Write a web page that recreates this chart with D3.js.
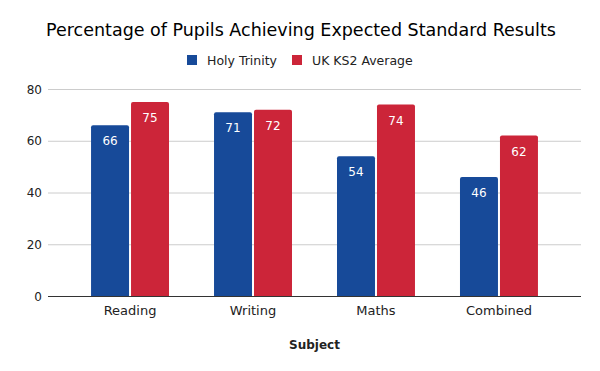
<!DOCTYPE html>
<html>
<head>
<meta charset="utf-8">
<script src="https://cdn.jsdelivr.net/npm/d3@7"></script>
<style>
	body { margin: 0; background: #fff; }
	text { font-family: "DejaVu Sans", sans-serif; }
</style>
</head>
<body>
<div class="chart"></div>
<script>
const subjects = ["Reading", "Writing", "Maths", "Combined"];
const seriesNames = ["Holy Trinity", "UK KS2 Average"];
const holyTrinity = [66, 71, 54, 46];
const ukAverage = [75, 72, 74, 62];
const yTicks = [0, 20, 40, 60, 80];
const colors = ["#174a99", "#cc2539"];

makeChart()

function makeChart() {
	const width = 600;
	const height = 371;
	const margin = {top: 89, right: 19, bottom: 75, left: 48};

	const svg = d3.select('.chart')
		.append('svg')
		.attr('width', width)
		.attr('height', height)

	let rows = subjects.map(function(s, i) {
		return {subject: s, values: [holyTrinity[i], ukAverage[i]]};
	});

	const x = d3.scaleBand()
		.domain(subjects)
		.range([margin.left, width - margin.right])
		.paddingInner(0.366)
		.paddingOuter(0.35);

	const x1 = d3.scaleBand()
		.domain([0, 1])
		.range([0, x.bandwidth()])
		.paddingInner(0.05);

	const y = d3.scaleLinear()
		.domain([0, 80])
		.range([height - margin.bottom, margin.top]);

	// gridlines
	svg.append('g')
		.selectAll('line')
		.data(yTicks)
		.enter()
		.append('line')
		.attr('x1', margin.left)
		.attr('x2', width - margin.right)
		.attr('y1', function(d) { return y(d) + 0.5; })
		.attr('y2', function(d) { return y(d) + 0.5; })
		.attr('stroke', function(d) { return d == 0 ? '#333' : '#cccccc'; })
		.attr('stroke-width', 1);

	// y labels
	svg.append('g')
		.selectAll('text')
		.data(yTicks)
		.enter()
		.append('text')
		.text(function(d) { return d; })
		.attr('x', 42)
		.attr('y', function(d) { return y(d) + 4.5; })
		.attr('text-anchor', 'end')
		.attr('font-size', '12px')
		.attr('fill', '#222');

	let groups = svg.append('g')
		.selectAll('g')
		.data(rows)
		.enter()
		.append('g')
		.attr('transform', function(d) { return 'translate(' + x(d.subject) + ',0)'; });

	groups.selectAll('path')
		.data(function(d) { return d.values; })
		.enter()
		.append('path')
		.attr('fill', function(d, i) { return colors[i]; })
		.attr('d', function(d, i) {
			let x0 = x1(i), w = x1.bandwidth(), top = y(d), bot = y(0), r = 2;
			return 'M' + x0 + ',' + bot + 'V' + (top + r) + 'Q' + x0 + ',' + top + ' ' + (x0 + r) + ',' + top +
				'H' + (x0 + w - r) + 'Q' + (x0 + w) + ',' + top + ' ' + (x0 + w) + ',' + (top + r) + 'V' + bot + 'Z';
		});

	groups.selectAll('text')
		.data(function(d) { return d.values; })
		.enter()
		.append('text')
		.text(function(d) { return d; })
		.attr('x', function(d, i) { return x1(i) + x1.bandwidth() / 2; })
		.attr('y', function(d) { return y(d) + 20; })
		.attr('text-anchor', 'middle')
		.attr('font-size', '12px')
		.attr('fill', '#ffffff');

	// category labels
	svg.append('g')
		.selectAll('text')
		.data(subjects)
		.enter()
		.append('text')
		.text(function(d) { return d; })
		.attr('x', function(d) { return x(d) + x.bandwidth() / 2; })
		.attr('y', 315)
		.attr('text-anchor', 'middle')
		.attr('font-size', '13px')
		.attr('fill', '#222');

	svg.append('text')
		.text('Subject')
		.attr('x', (margin.left + width - margin.right) / 2)
		.attr('y', 349)
		.attr('text-anchor', 'middle')
		.attr('font-size', '12px')
		.attr('font-weight', 'bold')
		.attr('fill', '#222');

	svg.append('text')
		.text('Percentage of Pupils Achieving Expected Standard Results')
		.attr('x', 301)
		.attr('y', 36)
		.attr('text-anchor', 'middle')
		.attr('font-size', '17.5px')
		.attr('fill', '#000');

	// legend
	let legendX = [187, 292];
	let legend = svg.append('g')
		.selectAll('g')
		.data(seriesNames)
		.enter()
		.append('g')
		.attr('transform', function(d, i) { return 'translate(' + legendX[i] + ',55)'; });
	legend.append('rect')
		.attr('width', 10)
		.attr('height', 10)
		.attr('fill', function(d, i) { return colors[i]; });
	legend.append('text')
		.text(function(d) { return d; })
		.attr('x', 20)
		.attr('y', 10)
		.attr('font-size', '12.5px')
		.attr('fill', '#222');
}
</script>
</body>
</html>
